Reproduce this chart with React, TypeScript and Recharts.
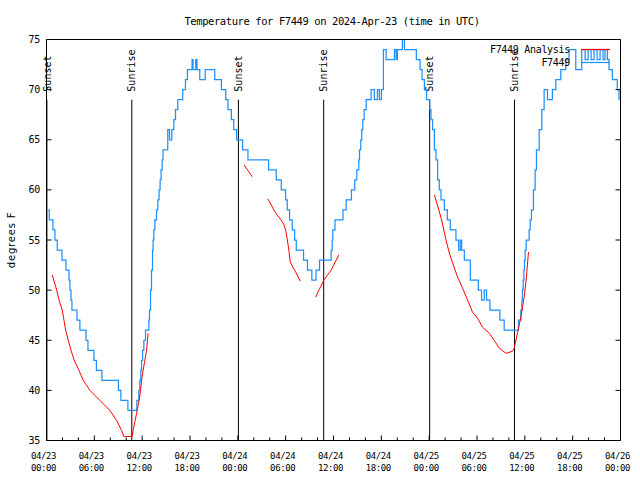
import React from 'react';
import { LineChart, Line, XAxis, YAxis, ReferenceLine, Legend, Customized } from 'recharts';

const MONO = "'DejaVu Sans Mono', monospace";
const SANS = "'DejaVu Sans', sans-serif";

const titleText = 'Temperature for F7449 on 2024-Apr-23 (time in UTC)';
const yLabelText = 'degrees F';
const obsName = 'F7449';
const anaName = 'F7449 Analysis';

const xTicks = [0, 2, 4, 6, 8, 10, 12, 14, 16, 18, 20, 22, 24, 26, 28, 30, 32, 34, 36, 38, 40, 42, 44, 46, 48, 50, 52, 54, 56, 58, 60, 62, 64, 66, 68, 70, 72];
const majorDates = ['04/23', '04/23', '04/23', '04/23', '04/24', '04/24', '04/24', '04/24', '04/25', '04/25', '04/25', '04/25', '04/26'];
const majorTimes = ['00:00', '06:00', '12:00', '18:00', '00:00', '06:00', '12:00', '18:00', '00:00', '06:00', '12:00', '18:00', '00:00'];
const yTicks = [35, 40, 45, 50, 55, 60, 65, 70, 75];

const sunHours = [0.05, 10.7, 24.07, 34.77, 48.06, 58.7];
const sunLabels = ['Sunset', 'Sunrise', 'Sunset', 'Sunrise', 'Sunset', 'Sunrise'];
const sunLineTop = 69;
const sunLineBottom = 35;

// Observations (F7449): hour of change, temperature (deg F)
const obsHours = [
  0.23, 0.35, 0.81, 1.06, 1.35, 1.94, 2.44, 2.82, 2.94, 3.07, 3.19, 3.82, 4.19, 4.95, 5.2, 5.95, 6.26, 6.95, 9.02, 9.33,
  10.21, 11.33, 11.58, 11.71, 11.83, 11.92, 12.05, 12.21, 12.42, 12.84, 12.92, 13.05, 13.17, 13.3, 13.37, 13.46, 13.59, 13.8, 13.96, 14.12,
  14.25, 14.37, 14.5, 14.62, 15.21, 15.43, 15.72, 15.97, 16.18, 16.47, 17.09, 17.43, 17.68, 18.26, 18.38, 18.72, 18.88, 19.22, 19.91, 21.1,
  21.94, 22.48, 22.77, 23.19, 23.48, 23.85, 24.6, 25.27, 27.86, 28.82, 29.45, 29.99, 30.2, 30.49, 30.83, 31.12, 31.33, 32.24, 32.74, 33.28,
  33.81, 34.25, 35.71, 35.84, 35.91, 36.19, 37.19, 37.59, 38.25, 38.67, 38.92, 39.17, 39.26, 39.42, 39.54, 39.67, 39.84, 40.1, 40.72, 41.13,
  41.51, 41.76, 42.01, 42.26, 42.6, 43.64, 43.85, 44.01, 44.64, 44.89, 46.39, 46.86, 47.11, 47.4, 47.68, 48.08, 48.23, 48.43, 48.65, 48.86,
  49.06, 49.27, 49.48, 49.9, 50.28, 50.65, 51.36, 51.69, 51.9, 52.07, 52.41, 53.16, 54.16, 54.57, 54.91, 55.2, 55.62, 56.87, 57.41, 59.2,
  59.5, 59.63, 59.7, 59.79, 59.88, 59.96, 60.04, 60.17, 60.54, 60.67, 60.83, 61.08, 61.29, 61.46, 61.8, 62.13, 62.42, 62.84, 63.46, 63.89,
  64.51, 65.14, 65.55, 66.39, 67.14, 67.56, 67.94, 68.31, 68.68, 69.06, 69.44, 69.81, 70.06, 70.35, 70.56, 70.98, 71.6, 71.81, 71.9,
];
const obsTemps = [
  58, 57, 56, 55, 54, 53, 52, 51, 50, 49, 48, 47, 46, 45, 44, 43, 42, 41, 40, 39,
  38, 39, 40, 41, 42, 43, 44, 45, 46, 47, 48, 50, 52, 54, 55, 56, 57, 58, 59, 60,
  61, 62, 63, 64, 66, 65, 66, 67, 68, 69, 70, 71, 72, 73, 72, 73, 72, 71, 72, 71,
  70, 69, 68, 67, 66, 65, 64, 63, 62, 61, 60, 59, 58, 57, 56, 55, 54, 53, 52, 51,
  52, 53, 54, 55, 56, 57, 58, 59, 60, 61, 62, 63, 64, 65, 66, 67, 68, 69, 70, 69,
  70, 69, 70, 74, 73, 74, 73, 74, 75, 74, 73, 72, 71, 70, 69, 68, 67, 66, 64, 63,
  61, 60, 59, 58, 57, 56, 55, 54, 55, 54, 53, 51, 50, 49, 50, 49, 48, 47, 46, 47,
  48, 49, 50, 51, 52, 53, 54, 55, 56, 57, 58, 60, 62, 64, 66, 68, 70, 69, 70, 71,
  72, 73, 74, 72, 74, 73, 74, 73, 74, 73, 74, 73, 74, 73, 72, 71, 70, 69, 69,
];

// Analysis (F7449 Analysis): segments separated by null
const anaHours = [
  0.73, 1.28, 1.57, 1.98, 2.19, 2.4, 2.73, 3.07, 3.48, 4.07, 4.61, 5.45, 6.7, 7.95, 8.79, 9.42, 9.7, 10.74, 10.87, 11.12,
  11.37, 11.62, 11.8, 11.92, 12.12, 12.33, 12.55, 12.67, 12.75,
  18,
  24.77, 25.3, 25.82,
  26.8,
  27.77, 28.74, 29.43, 29.8, 29.99, 30.15, 30.4, 30.58, 30.9, 31.33, 31.83,
  32.8,
  33.75, 34.79, 35.71, 36.66,
  42,
  48.66, 49.28, 49.56, 50.11, 50.53, 50.94, 51.57, 52.19, 52.82, 53.44, 54.07, 54.7, 55.54, 56.16, 56.79, 57.63, 58.45, 58.66, 59.08, 59.5,
  59.92, 60.2, 60.46,
];
const anaTemps: (number | null)[] = [
  51.5, 50, 49, 48, 47, 46, 45, 44, 43, 42, 41, 40, 39, 38, 37, 36, 35.4, 35.4, 36, 37,
  38, 39, 40, 41, 42, 43, 44, 45, 45.7,
  null,
  62.5, 61.9, 61.3,
  null,
  59.1, 57.7, 57, 56.5, 56, 55.3, 54, 52.8, 52.3, 51.7, 50.9,
  null,
  49.3, 51, 52, 53.5,
  null,
  59.5, 57.8, 57, 55, 53.7, 52.7, 51.3, 50.2, 49, 47.8, 47.2, 46.3, 45.7, 45, 44.2, 43.7, 43.9, 44.2, 45.7, 47.3,
  49.3, 51.3, 53.8,
];

const obsData = obsHours.map((h, i) => ({ h, t: obsTemps[i] }));
const anaData = anaHours.map((h, i) => ({ h, t: anaTemps[i] }));

const BottomTick = (props: any) => {
  const { x, y, payload } = props;
  const v = payload.value as number;
  const major = v % 6 === 0;
  const idx = v / 6;
  return (
    <g>
      <line x1={x} x2={x} y1={y} y2={y - (major ? 5 : 3)} stroke="#000" strokeWidth={1} />
      {major && (
        <text x={x - 3} y={y + 18.3} textAnchor="middle" fontFamily={MONO} fontSize={9} letterSpacing={-0.4} fill="#000">
          {majorDates[idx]}
        </text>
      )}
      {major && (
        <text x={x - 3} y={y + 30} textAnchor="middle" fontFamily={MONO} fontSize={9} letterSpacing={-0.4} fill="#000">
          {majorTimes[idx]}
        </text>
      )}
    </g>
  );
};

const TopTick = (props: any) => {
  const { x, y, payload } = props;
  const v = payload.value as number;
  const major = v % 6 === 0;
  return <line x1={x} x2={x} y1={y} y2={y + (major ? 5 : 3)} stroke="#000" strokeWidth={1} />;
};

const LeftTick = (props: any) => {
  const { x, y, payload } = props;
  return (
    <g>
      <line x1={x} x2={x + 5} y1={y} y2={y} stroke="#000" strokeWidth={1} />
      <text x={x - 6.5} y={y + 3.6} textAnchor="end" fontFamily={MONO} fontSize={10} letterSpacing={-0.3} fill="#000">
        {payload.value}
      </text>
    </g>
  );
};

const RightTick = (props: any) => {
  const { x, y } = props;
  return <line x1={x} x2={x - 5} y1={y} y2={y} stroke="#000" strokeWidth={1} />;
};

const renderLegend = (props: any) => {
  const items = [...(props.payload || [])].reverse();
  return (
    <svg width={640} height={80} style={{ display: 'block', overflow: 'visible' }}>
      {items.map((it: any, i: number) => {
        const y = 49.5 + i * 13;
        return (
          <g key={i}>
            <text x={570} y={y + 3.6} textAnchor="end" fontFamily={MONO} fontSize={10} letterSpacing={-0.3} fill="#000">
              {it.value}
            </text>
            <line x1={581} x2={610} y1={y} y2={y} stroke={it.color} strokeWidth={1.25} />
          </g>
        );
      })}
    </svg>
  );
};

const TextLayer = () => (
  <g>
    <text x={332} y={24.5} textAnchor="middle" fontFamily={MONO} fontSize={10.5} letterSpacing={-0.42} fill="#000">
      {titleText}
    </text>
    <text
      x={15}
      y={240}
      textAnchor="middle"
      transform="rotate(-90 15 240)"
      fontFamily={SANS}
      fontSize={10}
      letterSpacing={0.8}
      fill="#000"
    >
      {yLabelText}
    </text>
  </g>
);

const sunLabel = (text: string) => (p: any) => {
  const vb = p.viewBox || {};
  const x = (vb.x ?? 0) + 3.7;
  const y = (vb.y ?? 0) - 8;
  return (
    <text x={x} y={y} transform={`rotate(-90 ${x} ${y})`} textAnchor="start" fontFamily={MONO} fontSize={10} fill="#000">
      {text}
    </text>
  );
};

export default function App() {
  return (
    <div style={{ position: 'absolute', left: 0, top: 0, width: 640, height: 480, background: '#fff' }}>
      <LineChart width={640} height={480} margin={{ top: 29.5, right: 9.5, bottom: 9.5, left: 6.5 }}>
        <XAxis
          dataKey="h"
          type="number"
          domain={[0, 72]}
          ticks={xTicks}
          interval={0}
          tickSize={0}
          tickMargin={0}
          tickLine={false}
          height={30}
          axisLine={{ stroke: '#000' }}
          tick={<BottomTick />}
          allowDataOverflow
        />
        <XAxis
          xAxisId="top"
          orientation="top"
          type="number"
          domain={[0, 72]}
          ticks={xTicks}
          interval={0}
          tickSize={0}
          tickMargin={0}
          tickLine={false}
          height={10}
          axisLine={{ stroke: '#000' }}
          tick={<TopTick />}
          allowDataOverflow
        />
        <YAxis
          type="number"
          domain={[35, 75]}
          ticks={yTicks}
          interval={0}
          tickSize={0}
          tickMargin={0}
          tickLine={false}
          width={40}
          axisLine={{ stroke: '#000' }}
          tick={<LeftTick />}
          allowDataOverflow
        />
        <YAxis
          yAxisId="right"
          orientation="right"
          type="number"
          domain={[35, 75]}
          ticks={yTicks}
          interval={0}
          tickSize={0}
          tickMargin={0}
          tickLine={false}
          width={10}
          axisLine={{ stroke: '#000' }}
          tick={<RightTick />}
          allowDataOverflow
        />
        {sunHours.map((h, i) => (
          <ReferenceLine
            key={i}
            segment={[
              { x: h, y: sunLineTop },
              { x: h, y: sunLineBottom },
            ]}
            stroke="#000"
            strokeWidth={1}
            label={sunLabel(sunLabels[i])}
            ifOverflow="visible"
          />
        ))}
        <Line
          data={obsData}
          dataKey="t"
          name={obsName}
          type="stepAfter"
          stroke="#1e90ff"
          strokeWidth={1.25}
          dot={false}
          activeDot={false}
          isAnimationActive={false}
        />
        <Line
          data={anaData}
          dataKey="t"
          name={anaName}
          type="linear"
          stroke="#ff0000"
          strokeWidth={1}
          dot={false}
          activeDot={false}
          connectNulls={false}
          isAnimationActive={false}
        />
        <Legend
          layout="horizontal"
          verticalAlign="middle"
          align="center"
          content={renderLegend}
          wrapperStyle={{ position: 'absolute', left: 0, top: 0, width: 640, height: 80, pointerEvents: 'none' }}
        />
        <Customized component={TextLayer} />
      </LineChart>
    </div>
  );
}
